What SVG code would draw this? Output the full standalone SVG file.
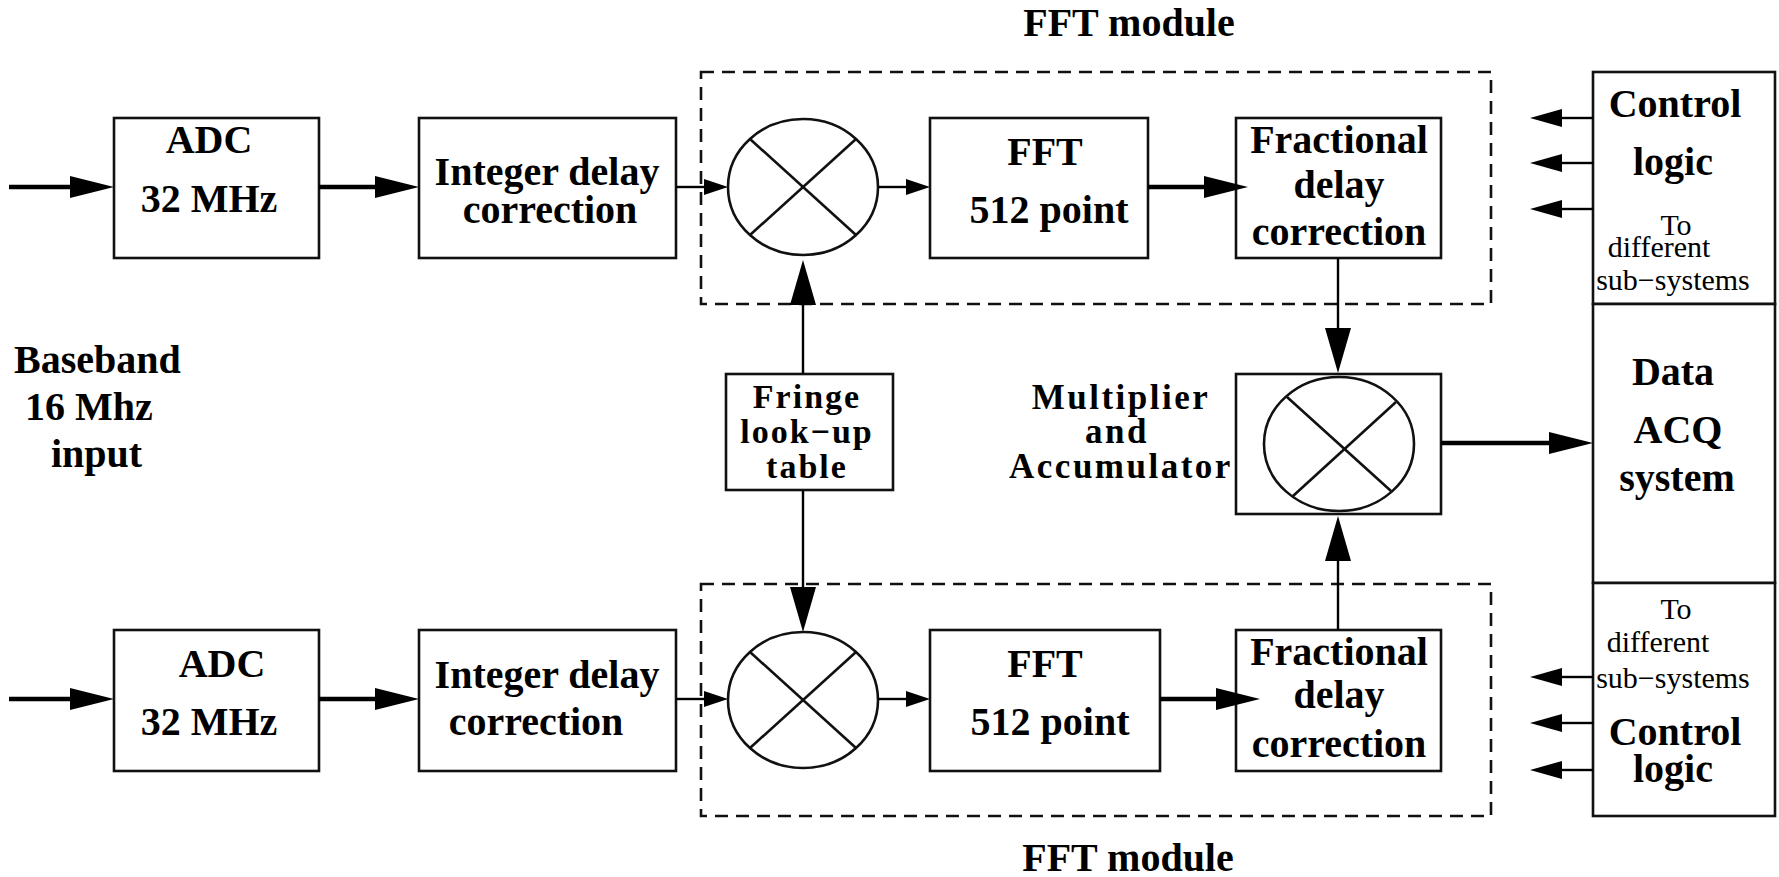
<svg xmlns="http://www.w3.org/2000/svg" width="1779" height="877" viewBox="0 0 1779 877">
<style>
  .box{fill:#fff;stroke:#111;stroke-width:2.6}
  .dash{fill:none;stroke:#111;stroke-width:2.6;stroke-dasharray:13 8}
  .mix{fill:none;stroke:#111;stroke-width:2.6}
  .thick{fill:none;stroke:#000;stroke-width:4.5}
  .thin{fill:none;stroke:#000;stroke-width:2.4}
  text{font-family:"Liberation Serif","Times New Roman",serif;fill:#000}
  .b{font-weight:bold;font-size:40px;text-anchor:middle}
  .bs{font-weight:bold;font-size:34px;letter-spacing:2px;text-anchor:middle}
  .bm{font-weight:bold;font-size:35px;letter-spacing:2.5px;text-anchor:middle}
  .r{font-size:30px;text-anchor:middle}
  .bl{font-weight:bold;font-size:40px}
</style>
<defs>
  <marker id="aBig" markerUnits="userSpaceOnUse" markerWidth="44" markerHeight="24" viewBox="0 -12 44 24" refX="0" refY="0" orient="auto" overflow="visible"><path d="M0,-11 L44,0 L0,11 z" fill="#000"/></marker>
  <marker id="aSmall" markerUnits="userSpaceOnUse" markerWidth="24" markerHeight="18" viewBox="0 -9 24 18" refX="0" refY="0" orient="auto" overflow="visible"><path d="M0,-8 L24,0 L0,8 z" fill="#000"/></marker>
  <marker id="aVert" markerUnits="userSpaceOnUse" markerWidth="45" markerHeight="28" viewBox="0 -14 45 28" refX="0" refY="0" orient="auto" overflow="visible"><path d="M0,-13 L45,0 L0,13 z" fill="#000"/></marker>
  <marker id="aCtl" markerUnits="userSpaceOnUse" markerWidth="32" markerHeight="20" viewBox="0 -10 32 20" refX="0" refY="0" orient="auto" overflow="visible"><path d="M0,-9 L32,0 L0,9 z" fill="#000"/></marker>
</defs>
<rect width="1779" height="877" fill="#fff"/>

<!-- FFT module frames -->
<g id="fft-module-top">
  <rect class="dash" x="701" y="72" width="790" height="232"/>
  <text class="b" x="1129" y="36">FFT module</text>
</g>
<g id="fft-module-bottom">
  <rect class="dash" x="701" y="584" width="790" height="232"/>
  <text class="b" x="1128" y="871">FFT module</text>
</g>

<g id="input-label">
  <text class="bl" x="14" y="373">Baseband</text>
  <text class="bl" x="25" y="420">16 Mhz</text>
  <text class="bl" x="51" y="467">input</text>
</g>

<!-- Top chain -->
<g id="adc-top">
  <rect class="box" x="114" y="118" width="205" height="140"/>
  <text class="b" x="209" y="153">ADC</text>
  <text class="b" x="209" y="212">32 MHz</text>
</g>
<g id="intdelay-top">
  <rect class="box" x="419" y="118" width="257" height="140"/>
  <text class="b" x="547" y="185">Integer delay</text>
  <text class="b" x="550" y="223">correction</text>
</g>
<g id="mixer-top">
  <ellipse class="mix" cx="803" cy="187" rx="75" ry="68"/>
  <line class="mix" x1="750" y1="139" x2="856" y2="235"/>
  <line class="mix" x1="856" y1="139" x2="750" y2="235"/>
</g>
<g id="fft-top">
  <rect class="box" x="930" y="118" width="218" height="140"/>
  <text class="b" x="1045" y="165">FFT</text>
  <text class="b" x="1049" y="223">512 point</text>
</g>
<g id="fracdelay-top">
  <rect class="box" x="1236" y="118" width="205" height="140"/>
  <text class="b" x="1339" y="153">Fractional</text>
  <text class="b" x="1339" y="198">delay</text>
  <text class="b" x="1339" y="245">correction</text>
</g>

<!-- Fringe -->
<g id="fringe">
  <rect class="box" x="726" y="374" width="167" height="116"/>
  <text class="bs" x="807" y="408">Fringe</text>
  <text class="bs" x="807" y="443">look−up</text>
  <text class="bs" x="807" y="478">table</text>
</g>

<!-- Multiplier and accumulator -->
<g id="mac">
  <rect class="box" x="1236" y="374" width="205" height="140"/>
  <ellipse class="mix" cx="1339" cy="444" rx="75" ry="67"/>
  <line class="mix" x1="1287" y1="397" x2="1391" y2="491"/>
  <line class="mix" x1="1396" y1="402" x2="1293" y2="496"/>
  <text class="bm" x="1121" y="409">Multiplier</text>
  <text class="bm" x="1117" y="443">and</text>
  <text class="bm" x="1121" y="478">Accumulator</text>
</g>

<!-- Bottom chain -->
<g id="adc-bottom">
  <rect class="box" x="114" y="630" width="205" height="141"/>
  <text class="b" x="222" y="677">ADC</text>
  <text class="b" x="209" y="735">32 MHz</text>
</g>
<g id="intdelay-bottom">
  <rect class="box" x="419" y="630" width="257" height="141"/>
  <text class="b" x="547" y="688">Integer delay</text>
  <text class="b" x="536" y="735">correction</text>
</g>
<g id="mixer-bottom">
  <ellipse class="mix" cx="803" cy="700" rx="75" ry="68"/>
  <line class="mix" x1="750" y1="652" x2="856" y2="748"/>
  <line class="mix" x1="856" y1="652" x2="750" y2="748"/>
</g>
<g id="fft-bottom">
  <rect class="box" x="930" y="630" width="230" height="141"/>
  <text class="b" x="1045" y="677">FFT</text>
  <text class="b" x="1050" y="735">512 point</text>
</g>
<g id="fracdelay-bottom">
  <rect class="box" x="1236" y="630" width="205" height="141"/>
  <text class="b" x="1339" y="665">Fractional</text>
  <text class="b" x="1339" y="708">delay</text>
  <text class="b" x="1339" y="757">correction</text>
</g>

<!-- Right column -->
<g id="control-top">
  <rect class="box" x="1593" y="72" width="182" height="232"/>
  <text class="b" x="1675" y="117">Control</text>
  <text class="b" x="1673" y="175">logic</text>
  <text class="r" x="1676" y="235">To</text>
  <text class="r" x="1659" y="257">different</text>
  <text class="r" x="1673" y="290">sub−systems</text>
</g>
<g id="data-acq">
  <rect class="box" x="1593" y="304" width="182" height="279"/>
  <text class="b" x="1673" y="385">Data</text>
  <text class="b" x="1678" y="443">ACQ</text>
  <text class="b" x="1677" y="491">system</text>
</g>
<g id="control-bottom">
  <rect class="box" x="1593" y="583" width="182" height="233"/>
  <text class="r" x="1676" y="619">To</text>
  <text class="r" x="1658" y="652">different</text>
  <text class="r" x="1673" y="688">sub−systems</text>
  <text class="b" x="1675" y="745">Control</text>
  <text class="b" x="1673" y="782">logic</text>
</g>

<!-- Connectors -->
<g id="connectors">
  <line class="thick" x1="9" y1="187" x2="70" y2="187" marker-end="url(#aBig)"/>
  <line class="thick" x1="319" y1="187" x2="375" y2="187" marker-end="url(#aBig)"/>
  <line class="thin" x1="676" y1="187" x2="704" y2="187" marker-end="url(#aSmall)"/>
  <line class="thin" x1="878" y1="187" x2="906" y2="187" marker-end="url(#aSmall)"/>
  <line class="thick" x1="1148" y1="187" x2="1204" y2="187" marker-end="url(#aBig)"/>
  <line class="thin" x1="803" y1="374" x2="803" y2="305" marker-end="url(#aVert)"/>
  <line class="thin" x1="803" y1="490" x2="803" y2="587" marker-end="url(#aVert)"/>
  <line class="thin" x1="1338" y1="258" x2="1338" y2="328" marker-end="url(#aVert)"/>
  <line class="thin" x1="1338" y1="630" x2="1338" y2="561" marker-end="url(#aVert)"/>
  <line class="thick" x1="1441" y1="443" x2="1549" y2="443" marker-end="url(#aBig)"/>

  <line class="thick" x1="9" y1="699" x2="70" y2="699" marker-end="url(#aBig)"/>
  <line class="thick" x1="319" y1="699" x2="375" y2="699" marker-end="url(#aBig)"/>
  <line class="thin" x1="676" y1="699" x2="704" y2="699" marker-end="url(#aSmall)"/>
  <line class="thin" x1="878" y1="699" x2="906" y2="699" marker-end="url(#aSmall)"/>
  <line class="thick" x1="1160" y1="699" x2="1216" y2="699" marker-end="url(#aBig)"/>

  <line class="thin" x1="1593" y1="118" x2="1562" y2="118" marker-end="url(#aCtl)"/>
  <line class="thin" x1="1593" y1="163" x2="1562" y2="163" marker-end="url(#aCtl)"/>
  <line class="thin" x1="1593" y1="209" x2="1562" y2="209" marker-end="url(#aCtl)"/>
  <line class="thin" x1="1593" y1="677" x2="1562" y2="677" marker-end="url(#aCtl)"/>
  <line class="thin" x1="1593" y1="723" x2="1562" y2="723" marker-end="url(#aCtl)"/>
  <line class="thin" x1="1593" y1="770" x2="1562" y2="770" marker-end="url(#aCtl)"/>
</g>
</svg>
